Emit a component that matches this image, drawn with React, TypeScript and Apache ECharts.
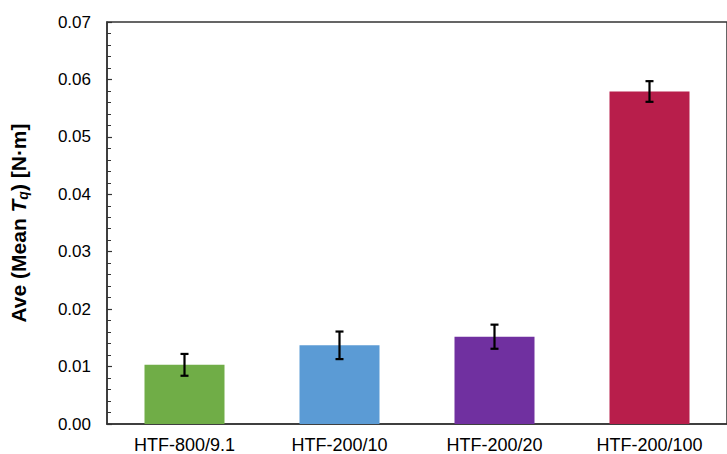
import React, { useEffect, useRef } from "react";
import * as echarts from "echarts";

const categories = ["HTF-800/9.1", "HTF-200/10", "HTF-200/20", "HTF-200/100"];
const meanValues = [0.0103, 0.0137, 0.0152, 0.0579];
const errorValues = [0.0019, 0.0024, 0.0021, 0.0018];
const barColors = ["#70AD47", "#5B9BD5", "#7030A0", "#B81E4B"];
const yTicks = [0, 0.01, 0.02, 0.03, 0.04, 0.05, 0.06, 0.07];

const FONT = "Liberation Sans, Arial, sans-serif";

export default function App() {
  const ref = useRef<HTMLDivElement>(null);
  useEffect(() => {
    document.body.style.margin = "0";
    const chart = echarts.init(ref.current!, null, { renderer: "svg" });
    const errData = categories.map((c, i) => [i, meanValues[i] - errorValues[i], meanValues[i] + errorValues[i]]);
    chart.setOption({
      animation: false,
      backgroundColor: "#ffffff",
      textStyle: { fontFamily: FONT },
      grid: {
        left: 101,
        top: 22,
        width: 636,
        height: 402,
        show: true,
        borderColor: "#333",
        borderWidth: 1.5,
        backgroundColor: "transparent",
      },
      xAxis: {
        type: "category",
        data: categories,
        axisLine: { show: true, lineStyle: { color: "#333", width: 1.5 } },
        axisTick: { show: false },
        axisLabel: { color: "#000", fontSize: 18, margin: 12, fontFamily: FONT },
      },
      yAxis: {
        type: "value",
        min: 0,
        max: yTicks[yTicks.length - 1],
        interval: 0.01,
        axisLine: { show: true, lineStyle: { color: "#333", width: 1.5 } },
        axisTick: { show: true, inside: true, length: 5, lineStyle: { color: "#333", width: 1.2 } },
        minorTick: { show: true, splitNumber: 5, length: 4, lineStyle: { color: "#333", width: 1 } },
        splitLine: { show: false },
        axisLabel: {
          color: "#000",
          fontSize: 17,
          margin: 16,
          formatter: (v: number) => v.toFixed(2),
          fontFamily: FONT,
        },
        name: "{b|Ave (Mean }{i|T}{s|q}{b|) [N·m]}",
        nameLocation: "middle",
        nameGap: 77,
        nameRotate: 90,
        nameTextStyle: {
          rich: {
            b: { fontSize: 21, fontWeight: "bold", color: "#000", fontFamily: FONT },
            i: { fontSize: 21, fontWeight: "bold", fontStyle: "italic", color: "#000", fontFamily: FONT },
            s: { fontSize: 14, fontWeight: "bold", fontStyle: "italic", color: "#000", verticalAlign: "bottom", padding: [9, 0, 0, 0], fontFamily: FONT },
          },
        },
      },
      series: [
        {
          type: "bar",
          barWidth: 80,
          data: meanValues.map((v, i) => ({ value: v, itemStyle: { color: barColors[i] } })),
        },
        {
          type: "custom",
          data: errData,
          z: 10,
          renderItem: (params: any, api: any) => {
            const x = api.value(0);
            const lo = api.coord([x, api.value(1)]);
            const hi = api.coord([x, api.value(2)]);
            const hw = 4;
            const style = { stroke: "#000", lineWidth: 2.2 };
            return {
              type: "group",
              children: [
                { type: "line", shape: { x1: lo[0], y1: lo[1], x2: hi[0], y2: hi[1] }, style },
                { type: "line", shape: { x1: lo[0] - hw, y1: lo[1], x2: lo[0] + hw, y2: lo[1] }, style },
                { type: "line", shape: { x1: hi[0] - hw, y1: hi[1], x2: hi[0] + hw, y2: hi[1] }, style },
              ],
            };
          },
        },
      ],
    });
    return () => chart.dispose();
  }, []);
  return <div ref={ref} style={{ width: 727, height: 454 }} />;
}
